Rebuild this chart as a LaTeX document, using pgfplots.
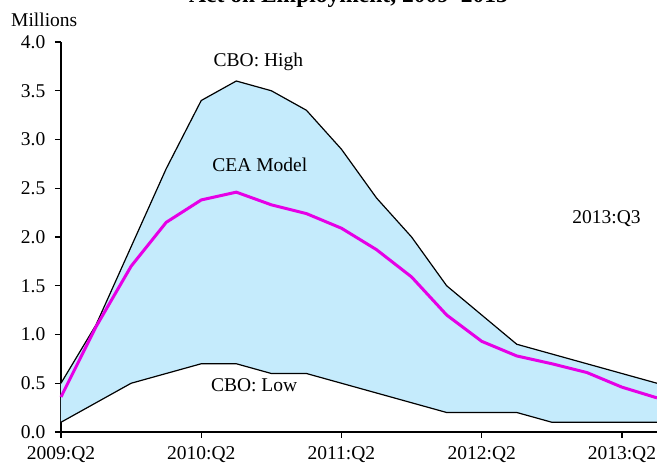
\documentclass[border=0pt]{standalone}
\usepackage{pgfplots}
\pgfplotsset{compat=1.18}
\usepgfplotslibrary{fillbetween}
\usepackage{fontspec}
\setmainfont{Liberation Serif}
\definecolor{bandblue}{RGB}{197,235,252}
\definecolor{ceamag}{RGB}{230,0,230}
\pgfplotstableread{
q high low cea
0 0.5 0.1 0.36
1 1.1 0.3 1.08
2 1.9 0.5 1.70
3 2.7 0.6 2.15
4 3.4 0.7 2.38
5 3.6 0.7 2.46
6 3.5 0.6 2.33
7 3.3 0.6 2.24
8 2.9 0.5 2.09
9 2.4 0.4 1.87
10 2.0 0.3 1.59
11 1.5 0.2 1.20
12 1.2 0.2 0.93
13 0.9 0.2 0.78
14 0.8 0.1 0.70
15 0.7 0.1 0.61
16 0.6 0.1 0.46
17 0.5 0.1 0.35
}\datatable
\begin{document}
\fontsize{19.5pt}{22pt}\selectfont
\begin{tikzpicture}
\begin{axis}[
  at={(0pt,0pt)}, anchor=south west,
  scale only axis,
  width=596pt, height=390pt,
  xmin=0, xmax=17, ymin=0, ymax=4,
  axis x line=bottom, axis y line=left,
  axis line style={-, line width=1.3pt},
  xtick={0,4,8,12,16},
  xticklabels={2009:Q2,2010:Q2,2011:Q2,2012:Q2,2013:Q2},
  ytick={0,0.5,1,1.5,2,2.5,3,3.5,4},
  yticklabel style={xshift=-3pt},
  /pgf/number format/fixed,
  /pgf/number format/fixed zerofill,
  /pgf/number format/precision=1,
  /pgf/number format/assume math mode=true,
  tick align=outside,
  major tick length=6pt,
  tick style={black, line width=1.3pt},
  xticklabel style={anchor=base, yshift=-22pt},
  clip=false,
]
\addplot[name path=high, draw=none] table[x=q, y=high] {\datatable};
\addplot[name path=low, draw=none] table[x=q, y=low] {\datatable};
\addplot[bandblue] fill between[of=high and low];
\addplot[black, line width=1.2pt] table[x=q, y=high] {\datatable};
\addplot[black, line width=1.2pt] table[x=q, y=low] {\datatable};
\addplot[ceamag, line width=3pt] table[x=q, y=cea] {\datatable};
\node[anchor=base, inner sep=0pt] at (axis cs:5.63,3.747) {CBO: High};
\node[anchor=base, inner sep=0pt] at (axis cs:5.67,2.67) {CEA Model};
\node[anchor=base, inner sep=0pt] at (axis cs:5.51,0.413) {CBO: Low};
\node[anchor=base, inner sep=0pt] at (axis cs:15.56,2.14) {2013:Q3};
\end{axis}
\node[anchor=base, inner sep=0pt, font=\fontsize{23.5pt}{26pt}\selectfont\bfseries] at (287.5pt,429pt) {Act on Employment, 2009--2013};
\node[anchor=base west, inner sep=0pt] at (-50pt,405pt) {Millions};
\pgfresetboundingbox
\useasboundingbox (-61pt,-32pt) rectangle (596pt,432pt);
\end{tikzpicture}
\end{document}
